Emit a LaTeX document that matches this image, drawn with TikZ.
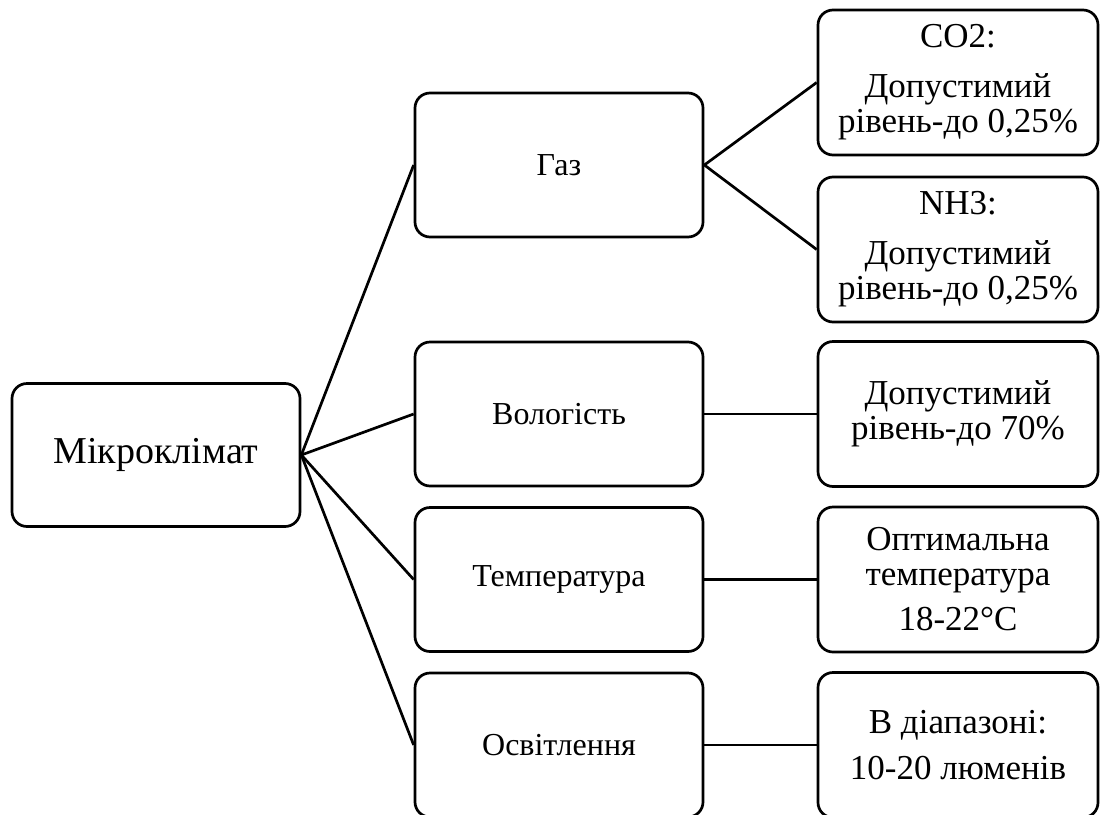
\documentclass[tikz,border=0pt]{standalone}
\usepackage{fontspec}
\setmainfont{Liberation Serif}

\tikzset{
	box/.style={draw, line width=2.7pt, rounded corners=15pt, align=center, inner sep=0pt},
	rootbox/.style={box, minimum width=288pt, minimum height=143pt, font=\fontsize{38pt}{40pt}\selectfont},
	midbox/.style={box, minimum width=288pt, minimum height=144pt, font=\fontsize{32pt}{35pt}\selectfont},
	leafbox/.style={box, minimum width=280pt, minimum height=145pt, font=\fontsize{35pt}{35pt}\selectfont},
	link/.style={line width=2.7pt}
}

\begin{document}
\begin{tikzpicture}[x=1pt, y=-1pt]
	\clip (0,0) rectangle (1100,814);
	\useasboundingbox (0,0) rectangle (1100,814);
	
	\node[rootbox] (mk) at (156,455) {Мікроклімат};
	
	\node[midbox] (gaz) at (559,165) {Газ};
	\node[midbox] (vol) at (559,414) {Вологість};
	\node[midbox] (tem) at (559,579.5) {Температура};
	\node[midbox] (osv) at (559,745) {Освітлення};
	
	\node[leafbox] (co) at (958,82.5) {CO2:\\[15pt]Допустимий\\рівень-до 0,25\%};
	\node[leafbox] (nh) at (958,249.5) {NH3:\\[15pt]Допустимий\\рівень-до 0,25\%};
	\node[leafbox] (vl) at (958,414) {Допустимий\\рівень-до 70\%};
	\node[leafbox] (tl) at (958,579.5) {Оптимальна\\температура\\[10pt]18-22°C};
	\node[leafbox] (ol) at (958,745) {В діапазоні:\\[11pt]10-20 люменів};
	
	\draw[link] (mk.east) -- (gaz.west);
	\draw[link] (mk.east) -- (vol.west);
	\draw[link] (mk.east) -- (tem.west);
	\draw[link] (mk.east) -- (osv.west);
	
	\draw[link] (gaz.east) -- (co.west);
	\draw[link] (gaz.east) -- (nh.west);
	\draw[link] (vol.east) -- (vl.west);
	\draw[link] (tem.east) -- (tl.west);
	\draw[link] (osv.east) -- (ol.west);
\end{tikzpicture}
\end{document}
